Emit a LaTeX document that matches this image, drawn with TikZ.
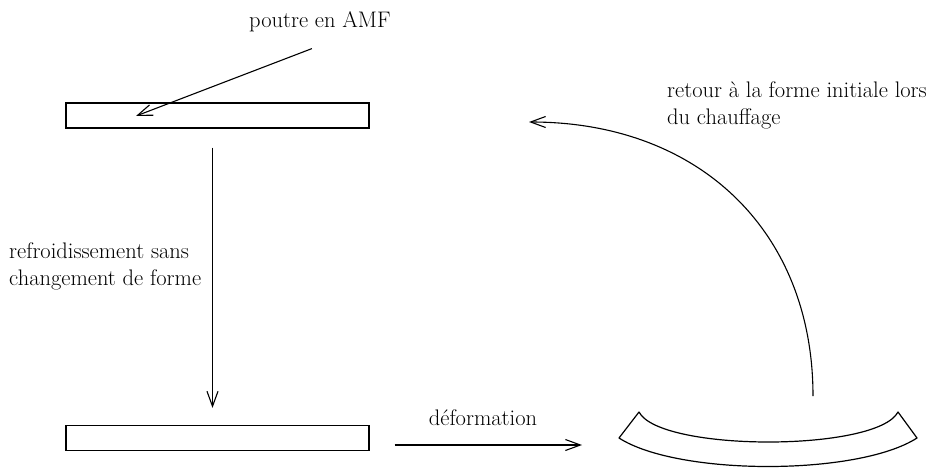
\documentclass[tikz,border=0pt]{standalone}
\usetikzlibrary{arrows.meta,positioning,calc}

\begin{document}
\begin{tikzpicture}[
  x=1pt, y=-1pt,
  font=\fontsize{22.5}{27}\selectfont,
  every node/.style={inner sep=0pt},
  poutre/.style={draw=black, line width=1.2pt, minimum width=303pt,
                 minimum height=25pt},
  ar/.style={-{Straight Barb[length=15pt,width=11pt]}, line width=1.1pt},
  txt/.style={align=left},
]
\useasboundingbox (0,0) rectangle (929,468);

% =============================================================== the beams
\node[poutre] (haut) at (217.5,115.5) {};
\node[poutre] (bas) at (217.5,438) {};

\node[anchor=base west] (amf) at (249,28) {poutre en AMF};
\coordinate (pointe) at (136,116);
\draw[ar] ($(amf.south)+(-8,16)$) -- (pointe);

% --- cooling, shape kept ---
\draw[ar] ([xshift=-5pt,yshift=-19pt]haut.south) -- ([xshift=-5pt,yshift=17pt]bas.north);
\node[txt, anchor=north west] (froid) at (9,242.5)
  {refroidissement sans\\changement de forme};

% --- bent beam ---
\coordinate (hg) at (639,412);
\coordinate (bg) at (619,438);
\coordinate (hd) at (898,412);
\coordinate (bd) at (917,438);
\draw[line width=1.2pt, line join=round]
  (hg) .. controls (660,452) and (877,452) .. (hd)
  -- (bd) .. controls (858,476) and (678,476) .. (bg) -- cycle;

\coordinate (arrivee) at (582,445);
\draw[ar] ([xshift=25pt,yshift=-7pt]bas.east) -- (arrivee);
\node[anchor=base] (defo) at (483,425) {déformation};

% --- heating, back to the straight beam ---
\coordinate (depart) at (813,396);
\coordinate (retour) at (529,122);
\draw[ar] (depart) .. controls (813,232) and (700,122) .. (retour);
\node[txt, anchor=north west] (chauf) at (667,81.5)
  {retour à la forme initiale lors\\du chauffage};

\end{tikzpicture}
\end{document}
